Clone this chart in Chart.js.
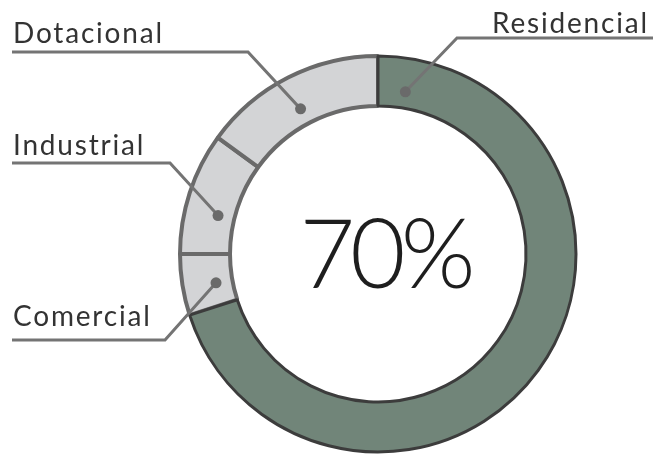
<!DOCTYPE html>
<html>
<head>
<meta charset="utf-8">
<script src="https://cdn.jsdelivr.net/npm/chart.js@4"></script>
<style>
  html, body { margin: 0; padding: 0; background: #ffffff; }
  #wrap { position: relative; width: 653px; height: 459px; }
</style>
</head>
<body>
<div id="wrap"><canvas id="c" width="653" height="459"></canvas></div>
<script>
// ---- data ----
const categories = ['Comercial', 'Industrial', 'Dotacional', 'Residencial'];
const shares = [5, 10, 15, 70];
const centerLabel = '70%';

// ---- style ----
const fills = ['#d3d4d6', '#d3d4d6', '#d3d4d6', '#718579'];
const borders = ['#6a6a6a', '#6a6a6a', '#6a6a6a', '#3c3c3c'];
const borderWidths = [4, 4, 4, 3];

// label layout (positions in px) and dot placement along each arc
const layout = {
  'Dotacional':  { tx: 13, ty: 43, align: 'left',  ly: 52, lx0: 12, lx1: 248, f: 0.48 },
  'Industrial':  { tx: 13, ty: 155, align: 'left', ly: 163, lx0: 12, lx1: 170, f: 0.375 },
  'Comercial':   { tx: 13, ty: 326, align: 'left', ly: 340, lx0: 12, lx1: 165, f: 0.44 },
  'Residencial': { tx: 647, ty: 33, align: 'right', ly: 38, lx0: 653, lx1: 457, f: 0.038 }
};

const calloutPlugin = {
  id: 'callouts',
  afterDatasetsDraw(chart) {
    const ctx = chart.ctx;
    const meta = chart.getDatasetMeta(0);
    ctx.save();
    meta.data.forEach((arc, i) => {
      const name = categories[i];
      const L = layout[name];
      const p = arc.getProps(['x', 'y', 'startAngle', 'endAngle', 'innerRadius', 'outerRadius'], true);
      const a = p.startAngle + L.f * (p.endAngle - p.startAngle);
      const r = p.innerRadius + (p.outerRadius - p.innerRadius) * 0.33;
      const dx = p.x + Math.cos(a) * r;
      const dy = p.y + Math.sin(a) * r;
      // leader line
      ctx.strokeStyle = '#747474';
      ctx.lineWidth = 3;
      ctx.lineJoin = 'miter';
      ctx.beginPath();
      ctx.moveTo(L.lx0, L.ly);
      ctx.lineTo(L.lx1, L.ly);
      ctx.lineTo(dx, dy);
      ctx.stroke();
      // dot
      ctx.fillStyle = '#6a6a6a';
      ctx.beginPath();
      ctx.arc(dx, dy, 5.5, 0, Math.PI * 2);
      ctx.fill();
      // text
      ctx.fillStyle = '#333333';
      ctx.font = '400 28px Lato, "Open Sans", sans-serif';
      ctx.letterSpacing = '1.8px';
      ctx.textAlign = L.align;
      ctx.textBaseline = 'alphabetic';
      ctx.fillText(name, L.align === 'right' ? L.tx + 1.8 : L.tx, L.ty);
    });
    // center value
    const a0 = meta.data[0];
    ctx.fillStyle = '#1e1e1e';
    ctx.font = '300 96px Lato, "Open Sans", sans-serif';
    ctx.letterSpacing = '-5px';
    ctx.textAlign = 'center';
    ctx.textBaseline = 'alphabetic';
    ctx.fillText(centerLabel, a0.x + 7, 288);
    ctx.restore();
  }
};

new Chart(document.getElementById('c'), {
  type: 'doughnut',
  data: {
    labels: categories,
    datasets: [{
      data: shares,
      backgroundColor: fills,
      borderColor: borders,
      borderWidth: borderWidths,
      hoverOffset: 0
    }]
  },
  options: {
    responsive: false,
    animation: false,
    radius: 198,
    cutout: 148,
    rotation: -108,
    layout: { padding: { left: 178, right: 75, top: 54, bottom: 5 } },
    plugins: { legend: { display: false }, tooltip: { enabled: false } },
    events: []
  },
  plugins: [calloutPlugin]
});
</script>
</body>
</html>
